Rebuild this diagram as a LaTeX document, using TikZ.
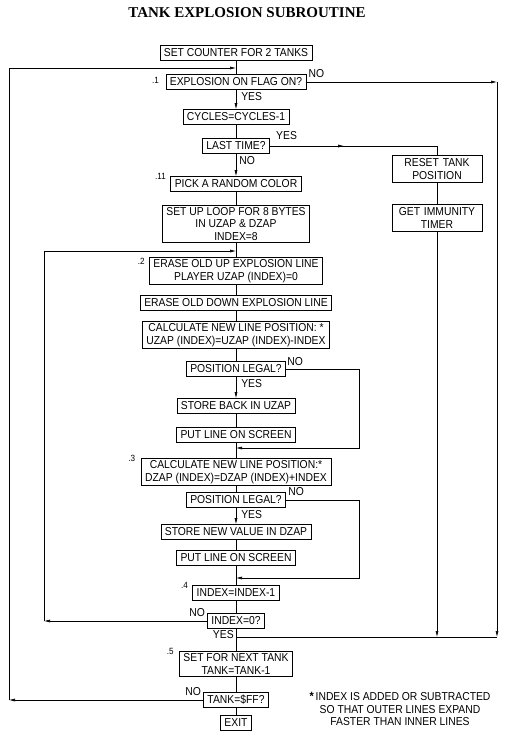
\documentclass[tikz,border=0pt]{standalone}
\usepackage{fontspec}
\setmainfont{Liberation Sans}[FakeStretch=0.9]
\newfontfamily\titlefont{Liberation Serif}
\usetikzlibrary{arrows.meta,decorations.markings}

\begin{document}
\begin{tikzpicture}[x=1pt,y=-1pt,>={Latex[length=6pt,width=3pt]},line width=.6pt,
  text centered,font=\fontsize{11.5}{12.5}\selectfont,
  midarr/.style={postaction={decorate},decoration={markings,
    mark=at position #1 with {\arrow{>}}}}]
\useasboundingbox (0,0) rectangle (506,737);
\draw (247,13) node (title) {\titlefont\bfseries\fontsize{15}{17}\selectfont TANK EXPLOSION SUBROUTINE};

\tikzstyle{every node}=[draw,align=center,inner xsep=4pt,inner ysep=2pt,minimum height=15pt]
\draw (236,53) node (setc) {SET COUNTER FOR 2 TANKS};
\draw (236,82) node (expl) {EXPLOSION ON FLAG ON?};
\draw (236,117) node (cycles) {CYCLES=CYCLES-1};
\draw (236,146) node (last) {LAST TIME?};
\draw (236,184) node (pick) {PICK A RANDOM COLOR};
\draw (236,224) node (loop) {SET UP LOOP FOR 8 BYTES\\IN UZAP \& DZAP\\INDEX=8};
\draw (236,271) node (eraseup) {ERASE OLD UP EXPLOSION LINE\\PLAYER UZAP (INDEX)=0};
\draw (236,303) node (erasedown) {ERASE OLD DOWN EXPLOSION LINE};
\draw (236,335) node (calcu) {CALCULATE NEW LINE POSITION: *\\UZAP (INDEX)=UZAP (INDEX)-INDEX};
\draw (236,369) node (legalu) {POSITION LEGAL?};
\draw (236,406) node (storeu) {STORE BACK IN UZAP};
\draw (236,435) node (putu) {PUT LINE ON SCREEN};
\draw (236,472) node (calcd) {CALCULATE NEW LINE POSITION:*\\DZAP (INDEX)=DZAP (INDEX)+INDEX};
\draw (236,500) node (legald) {POSITION LEGAL?};
\draw (236,532) node (stored) {STORE NEW VALUE IN DZAP};
\draw (236,558) node (putd) {PUT LINE ON SCREEN};
\draw (236,593) node (dec) {INDEX=INDEX-1};
\draw (236,621) node (zero) {INDEX=0?};
\draw (236,664) node (next) {SET FOR NEXT TANK\\TANK=TANK-1};
\draw (236,700) node (ff) {TANK=\$FF?};
\draw (236,723) node (exit) {EXIT};
\draw (437,169) node[text width=82pt,inner ysep=3pt] (reset) {RESET TANK\\POSITION};
\draw (437,218) node[text width=82pt,inner ysep=3pt] (immun) {GET IMMUNITY\\TIMER};

\tikzstyle{every node}=[]
\draw (expl.west) ++(-3,-2) node[anchor=east,font=\small] (n1) {.1};
\draw (pick.north west) ++(-1,0) node[anchor=east,font=\small] (n11) {.11};
\draw (eraseup.north west) ++(-1,4) node[anchor=east,font=\small] (n2) {.2};
\draw (calcd.north west) ++(-2,0) node[anchor=east,font=\small] (n3) {.3};
\draw (dec.north west) ++(-1,0) node[anchor=east,font=\small] (n4) {.4};
\draw (next.north west) ++(-2,0) node[anchor=east,font=\small] (n5) {.5};
\draw (expl.north east) node[anchor=south west,inner sep=2pt,yshift=-6pt] (nexpl) {NO};
\draw (expl.south) node[anchor=north west,inner sep=2pt,xshift=3pt] (yexpl) {YES};
\draw (last.north east) node[anchor=south west,inner sep=2pt,yshift=-4pt,xshift=4pt] (ylast) {YES};
\draw (last.south) node[anchor=north west,inner sep=2pt,xshift=1pt] (nlast) {NO};
\draw (legalu.north east) node[anchor=south west,inner sep=1pt,yshift=-6pt] (nlegalu) {NO};
\draw (legalu.south) node[anchor=north west,inner sep=2pt,xshift=3pt] (ylegalu) {YES};
\draw (legald.north east) node[anchor=south west,inner sep=2pt,yshift=-6pt] (nlegald) {NO};
\draw (legald.south) node[anchor=north west,inner sep=2pt,xshift=3pt] (ylegald) {YES};
\draw (zero.north west) node[anchor=south east,inner sep=2pt,yshift=-6pt] (nzero) {NO};
\draw (zero.south) node[anchor=north east,inner sep=1pt,xshift=-1pt] (yzero) {YES};
\draw (ff.north west) node[anchor=south east,inner sep=2pt,yshift=-6pt] (nff) {NO};
\draw (400,709) node[align=center] (note) {{\bfseries\large*}\,INDEX IS ADDED OR SUBTRACTED\\SO THAT OUTER LINES EXPAND\\FASTER THAN INNER LINES};

\coordinate (outL) at (9,0);
\coordinate (inL) at (44,0);
\coordinate (midR) at (359,0);
\coordinate (outR) at (497,0);
\coordinate (top1) at (236,68);
\coordinate (top2) at (236,251);
\coordinate (ret1) at (236,448);
\coordinate (ret2) at (236,578);
\coordinate (bot) at (236,637);

% main column
\draw (setc) -- (expl);
\draw[->] (expl) -- (cycles);
\draw (cycles) -- (last);
\draw[->] (last) -- (pick);
\draw (pick) -- (loop);
\draw (loop) -- (eraseup);
\draw (eraseup) -- (erasedown);
\draw (erasedown) -- (calcu);
\draw (calcu) -- (legalu);
\draw[->] (legalu) -- (storeu);
\draw (storeu) -- (putu);
\draw (putu) -- (calcd);
\draw (calcd) -- (legald);
\draw[->] (legald) -- (stored);
\draw (stored) -- (putd);
\draw (putd) -- (dec);
\draw (dec) -- (zero);
\draw (zero) -- (next);
\draw (next) -- (ff);
\draw (ff) -- (exit);

% branches
\draw[->] (ff.west) -- (ff.west -| outL);
\draw[->] (ff.west -| outL) |- (top1);
\draw[->] (expl.east) -- (expl.east -| outR);
\draw[->] (expl.east -| outR) -- (bot -| outR);
\draw[midarr=.42] (last.east) -| (reset.north);
\draw (reset) -- (immun);
\draw[->] (immun.south) -- (bot -| immun.south);
\draw (bot) -- (bot -| outR);
\draw[->] (zero.west) -- (zero.west -| inL);
\draw[->] (zero.west -| inL) |- (top2);
\draw[->] (legalu.east) -- (legalu.east -| midR) |- (ret1);
\draw[->] (legald.east) -- (legald.east -| midR) |- (ret2);

\end{tikzpicture}
\end{document}
